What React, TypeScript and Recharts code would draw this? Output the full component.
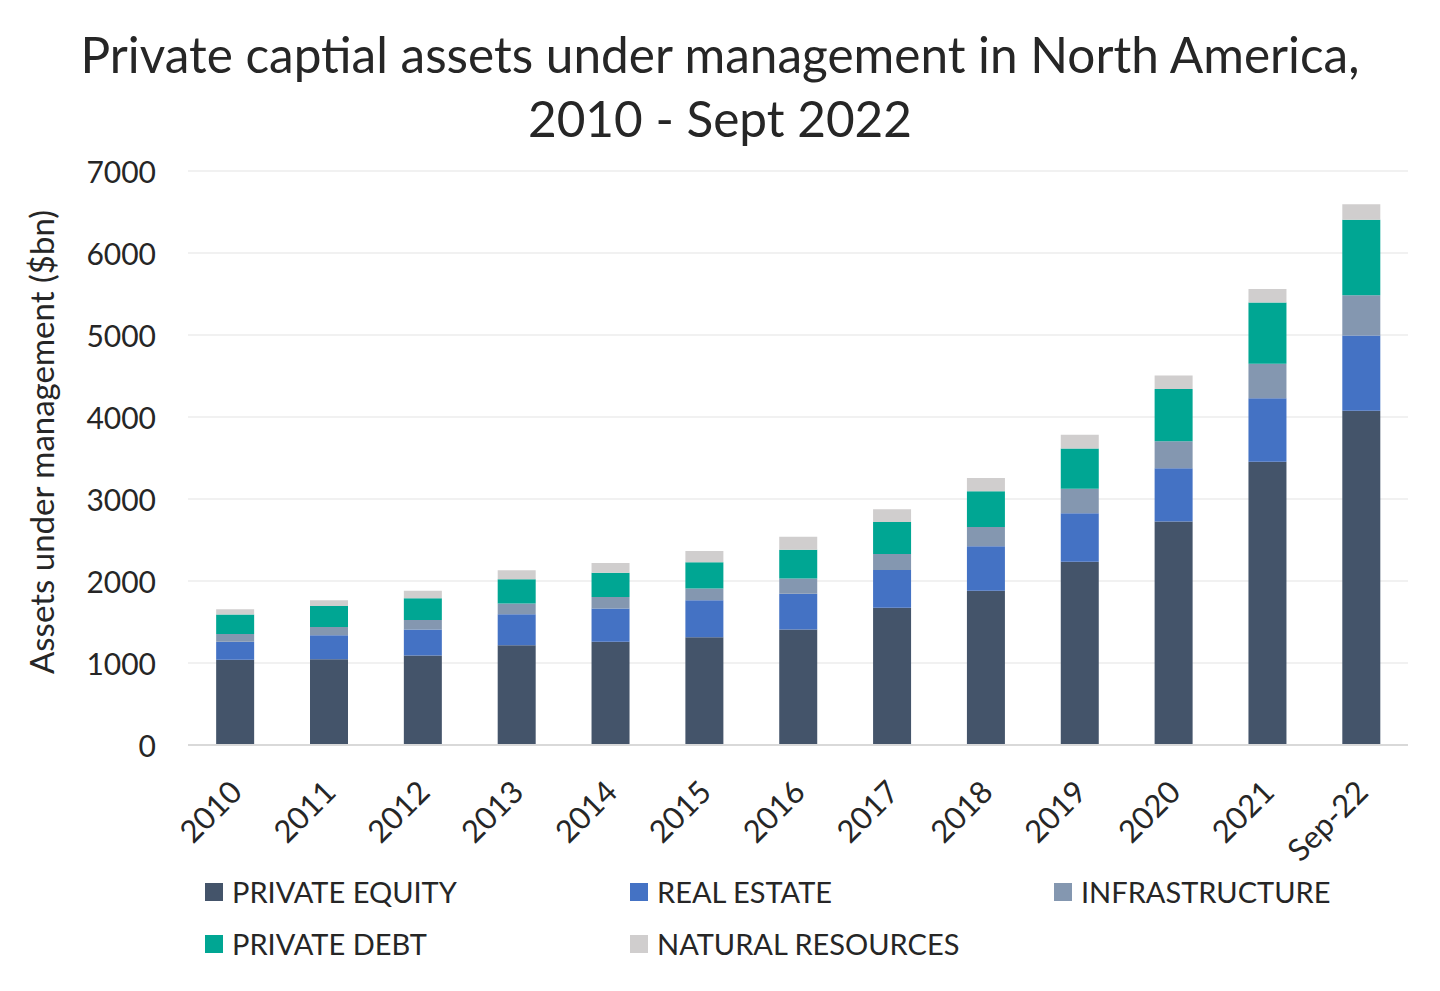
import { BarChart, Bar, XAxis, YAxis, CartesianGrid } from 'recharts';

// Categories and series values ($bn)
const YEARS = ['2010', '2011', '2012', '2013', '2014', '2015', '2016', '2017', '2018', '2019', '2020', '2021', 'Sep-22'];
const PRIVATE_EQUITY = [1040, 1045, 1090, 1215, 1260, 1315, 1410, 1675, 1880, 2235, 2725, 3455, 4075];
const REAL_ESTATE = [220, 293, 320, 380, 405, 450, 435, 460, 545, 590, 650, 775, 920];
const INFRASTRUCTURE = [95, 100, 115, 130, 140, 145, 185, 195, 235, 300, 330, 420, 490];
const PRIVATE_DEBT = [235, 257, 265, 295, 295, 320, 350, 390, 435, 490, 635, 745, 920];
const NATURAL_RESOURCES = [65, 70, 90, 110, 120, 135, 160, 155, 160, 170, 165, 165, 190];
const Y_TICKS = [0, 1000, 2000, 3000, 4000, 5000, 6000, 7000];

const SERIES = [
  { key: 'pe', name: 'PRIVATE EQUITY', color: '#44546A' },
  { key: 're', name: 'REAL ESTATE', color: '#4472C4' },
  { key: 'infra', name: 'INFRASTRUCTURE', color: '#8497B0' },
  { key: 'debt', name: 'PRIVATE DEBT', color: '#00A693' },
  { key: 'nr', name: 'NATURAL RESOURCES', color: '#D0CECE' },
];

const FONT = 'Lato, "Open Sans", sans-serif';
const TEXT = '#262626';

const chartData = YEARS.map((year, i) => ({
  year,
  pe: PRIVATE_EQUITY[i],
  re: REAL_ESTATE[i],
  infra: INFRASTRUCTURE[i],
  debt: PRIVATE_DEBT[i],
  nr: NATURAL_RESOURCES[i],
}));

// legend slots: 3 columns, 2 rows
const LEGEND_X = [205, 630, 1054];
const LEGEND_Y = [880, 932];

const XTick = ({ x, y, payload }: any) => (
  <text
    x={x + 9}
    y={y + 41}
    transform={`rotate(-45 ${x + 9} ${y + 41})`}
    textAnchor="end"
    fontSize={31}
    fontFamily={FONT}
    fill={TEXT}
  >
    {payload.value}
  </text>
);

const YTick = ({ y, payload }: any) => (
  <text x={156} y={y} textAnchor="end" dominantBaseline="central" fontSize={30} fontFamily={FONT} fill={TEXT}>
    {payload.value}
  </text>
);

const YLabel = () => (
  <text
    x={41}
    y={442}
    transform="rotate(-90 41 442)"
    textAnchor="middle"
    dominantBaseline="central"
    fontSize={33}
    fontFamily={FONT}
    fill={TEXT}
  >
    Assets under management ($bn)
  </text>
);

export default function App() {
  return (
    <div style={{ position: 'absolute', left: 0, top: 0, width: 1440, height: 991, background: '#fff' }}>
      <div
        style={{
          position: 'absolute',
          left: 0,
          top: 22,
          width: 1440,
          textAlign: 'center',
          fontFamily: FONT,
          fontSize: 49.5,
          lineHeight: '64px',
          color: TEXT,
        }}
      >
        Private captial assets under management in North America,
        <br />
        2010 - Sept 2022
      </div>

      <BarChart width={1440} height={991} data={chartData} margin={{ top: 171, right: 32, left: 0, bottom: 0 }} barCategoryGap="30%">
        <CartesianGrid vertical={false} stroke="#EDEDED" strokeWidth={1.5} />
        <XAxis
          dataKey="year"
          height={246}
          interval={0}
          tickLine={false}
          axisLine={{ stroke: '#D9D9D9', strokeWidth: 2 }}
          tick={<XTick />}
        />
        <YAxis
          width={188}
          domain={[0, 7000]}
          ticks={Y_TICKS}
          axisLine={false}
          tickLine={false}
          tick={<YTick />}
          label={<YLabel />}
        />
        {SERIES.map(s => (
          <Bar key={s.key} dataKey={s.key} name={s.name} stackId="aum" fill={s.color} isAnimationActive={false} />
        ))}
      </BarChart>

      {SERIES.map((s, i) => (
        <div
          key={s.key}
          style={{
            position: 'absolute',
            left: LEGEND_X[i % 3],
            top: LEGEND_Y[Math.floor(i / 3)] - 6,
            display: 'flex',
            alignItems: 'center',
            fontFamily: FONT,
            fontSize: 29,
            color: TEXT,
            whiteSpace: 'nowrap',
          }}
        >
          <span style={{ width: 18, height: 18, background: s.color, marginRight: 9, display: 'inline-block' }} />
          {s.name}
        </div>
      ))}
    </div>
  );
}
